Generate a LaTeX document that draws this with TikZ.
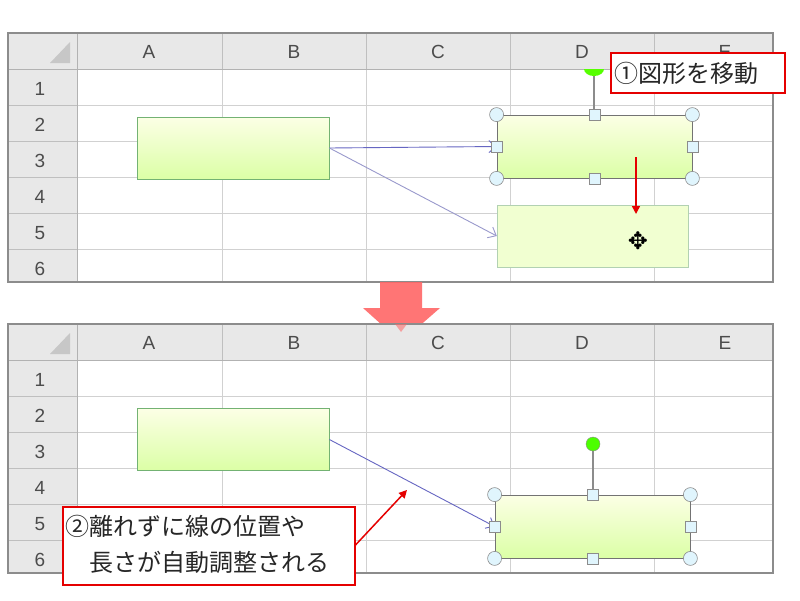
\documentclass[tikz,border=0pt]{standalone}
\usepackage{fontspec}
\setmainfont{Liberation Sans}
\newfontfamily\cjk{Noto Sans CJK JP}
\usetikzlibrary{arrows.meta}
\tikzset{
 hdr/.style={fill=black!9,draw=black!25},
 grid/.style={draw=black!18,line width=0.8pt},
 lbl/.style={font=\fontsize{19}{19}\selectfont,text=black!70},
 gbox/.style={draw=green!45!black!55,line width=0.8pt,top color=green!12!yellow!10,bottom color=green!40!yellow!35},
 conn/.style={draw=blue!60!black!60,line width=0.9pt,-{Straight Barb[length=7pt,width=12pt]}},
 hc/.style={circle,draw=black!45,fill=cyan!12,minimum size=14pt,inner sep=0pt,line width=0.6pt},
 hs/.style={rectangle,draw=black!45,fill=cyan!12,minimum size=11pt,inner sep=0pt,line width=0.6pt},
 note/.style={draw=red!90!black,line width=1.5pt,fill=white,inner sep=0pt},
 notetxt/.style={font=\cjk\fontsize{24}{36}\selectfont,align=left,inner sep=0pt,anchor=west,text=black!85},
 redar/.style={draw=red!90!black,line width=1.5pt,-{Triangle[length=8pt,width=8pt]}}
}
\newcommand{\sheet}{%
 \fill[white] (8,33) rectangle (773,282);
 \fill[black!9] (8,33) rectangle (773,69);
 \fill[black!9] (8,33) rectangle (77,282);
 \foreach \x in {222,366,510,654} \draw[grid] (\x,69) -- (\x,282);
 \foreach \y in {105,141,177,213,249} \draw[grid] (77,\y) -- (773,\y);
 \foreach \x in {77,222,366,510,654} \draw[black!25] (\x,33) -- (\x,69);
 \foreach \y in {69,105,141,177,213,249} \draw[black!25] (8,\y) -- (77,\y);
 \draw[black!30,line width=0.8pt] (77,33) -- (77,282);
 \draw[black!30,line width=0.8pt] (8,69) -- (773,69);
 \fill[black!22] (70,42) -- (70,63) -- (50,63) -- cycle;
 \foreach \c/\x in {A/149,B/294,C/438,D/582,E/725} \node[lbl] at (\x,52) {\c};
 \foreach \r in {1,...,6} \node[lbl] at (40,69+36*\r-16) {\r};
 \draw[black!45,line width=1.4pt] (8,33) rectangle (773,282);
}
\begin{document}
\begin{tikzpicture}[x=1pt,y=-1pt]
\useasboundingbox (0,0) rectangle (800,600);
\fill[white] (0,0) rectangle (800,600);
% top sheet
\sheet
\node[gbox,minimum width=192pt,minimum height=62pt,inner sep=0pt] (a1) at (233,148) {};
\node[draw=green!40!black!30,fill=green!30!yellow!18,minimum width=191pt,minimum height=62pt,inner sep=0pt] (g1) at (592.5,236) {};
\draw[black!45,line width=1.4pt] (594,69) -- (594,115);
\fill[green!55!lime] (584,69) -- (604,69) arc (0:-180:10pt and 7pt) -- cycle;
\node[gbox,draw=black!55,minimum width=195pt,minimum height=63pt,inner sep=0pt] (d1) at (594.5,146.5) {};
\draw[conn] (a1.east) -- (d1.west);
\draw[conn,draw=blue!50!black!40] (a1.east) -- (g1.west);
\foreach \p in {north west,north east,south west,south east} \node[hc] at (d1.\p) {};
\foreach \p in {north,south,east,west} \node[hs] at (d1.\p) {};
\node[note,minimum width=174pt,minimum height=40pt] (n1) at (698,73) {};
\node[notetxt] (t1) at ([xshift=4pt]n1.west) {①図形を移動};
\coordinate (r1) at (636,157);
\coordinate (r2) at (636,214);
\draw[redar] (r1) -- (r2);
\node[font=\fontsize{24}{24}\selectfont,inner sep=0pt] (mv) at (638,241) {\fontspec{DejaVu Sans}✥};
% big arrow
\fill[red!60!white,opacity=0.9] (380,282) -- (422,282) -- (422,308) -- (440,308) -- (401,342) -- (363,308) -- (380,308) -- cycle;
% bottom sheet
\begin{scope}[yshift=-291pt]
\sheet
\end{scope}
\fill[red!60!white,opacity=0.55] (395,324) -- (407,324) -- (401,332) -- cycle;
\node[gbox,minimum width=192pt,minimum height=62pt,inner sep=0pt] (a2) at (233,439.5) {};
\draw[black!45,line width=1.4pt] (593,444) -- (593,495);
\node[circle,draw=black!45,fill=green!60!lime,minimum size=14pt,inner sep=0pt] (rot) at (593,444) {};
\node[gbox,draw=black!55,minimum width=195pt,minimum height=63pt,inner sep=0pt] (d2) at (592.5,526.5) {};
\draw[conn] (a2.east) -- (d2.west);
\foreach \p in {north west,north east,south west,south east} \node[hc] at (d2.\p) {};
\foreach \p in {north,south,east,west} \node[hs] at (d2.\p) {};
\node[note,minimum width=292pt,minimum height=78pt,anchor=north west] (n2) at (62,506) {};
\node[notetxt] (t2) at ([xshift=3pt,yshift=1pt]n2.west) {②離れずに線の位置や\\\hspace*{1em}長さが自動調整される};
\coordinate (e2) at (407,490);
\draw[redar] (n2.east |- 0,545) -- (e2);
\end{tikzpicture}
\end{document}
